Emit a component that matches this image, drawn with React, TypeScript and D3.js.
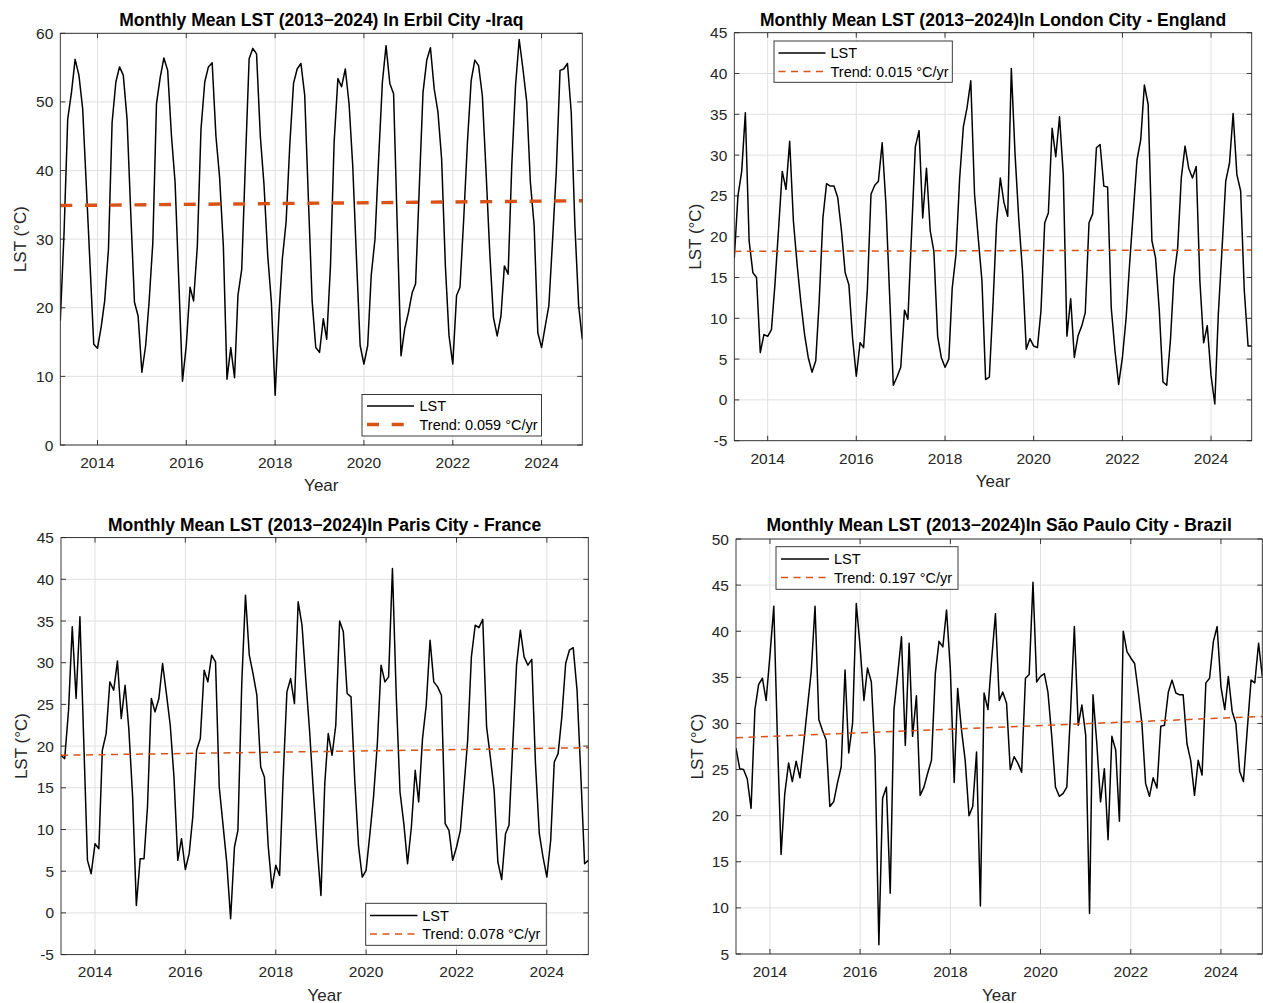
import React from "react";
import * as d3 from "d3";

// ---------------- DATA ----------------
const erbilLST = [
  18.1, 31, 47.5, 51.4, 56.2, 53.9, 49, 37.8, 26.1, 14.7,
  14.1, 17.3, 21, 28.5, 47, 52.9, 55.1, 53.9, 47.5, 34, 20.8, 18.8,
  10.6, 14.5, 20.8, 29.5, 49.7, 53.6, 56.4, 54.6, 45.1, 38.3, 23.7, 9.3,
  14.5, 23, 21, 29, 46, 52.9, 55.1, 55.7, 45, 39, 29, 9.6,
  14.2, 9.8, 21.8, 25.6, 41, 56.3, 57.8, 57, 45, 38, 27.6, 20.8,
  7.25, 19, 27.1, 32.5, 43.6, 52.7, 54.8, 55.6, 51, 36, 21, 14.2,
  13.5, 18.4, 15.4, 26.1, 44.1, 53.4, 52.2, 54.8, 49.7, 40.7, 27.1, 14.5,
  11.8, 14.5, 24.7, 30, 41.7, 52.9, 58.2, 52.7, 51.2, 32, 13, 16.9,
  19.3, 22.2, 23.5, 37.8, 51.4, 56.1, 57.9, 51.9, 48.5, 41.7, 26.1, 15.9,
  11.8, 21.8, 23, 33, 44, 53.1, 56.1, 55.3, 50.9, 40, 28, 18.6,
  15.9, 18.8, 26.1, 24.9, 40.7, 52.4, 59.1, 54.8, 50, 38.3, 32, 16.4,
  14.2, 17.4, 20.3, 30, 39.8, 54.6, 54.8, 55.6, 48.5, 32, 20.3, 15.4,
];

const londonLST = [
  17.4, 25, 28, 35.2, 19.5, 15.6, 15.0, 5.8, 8.0,
  7.8, 8.6, 14, 21, 28, 25.8, 31.7, 21.9, 16.5, 12, 8, 5.2,
  3.4, 4.8, 12, 22.3, 26.5, 26.2, 26.2, 24.8, 20.7, 15.6, 14.1, 7.6,
  2.9, 7.0, 6.4, 13.5, 25.2, 26.3, 26.8, 31.5, 24, 13, 1.8, 2.8,
  4.0, 11.0, 9.9, 20.7, 31, 33, 22.3, 28.4, 20.7, 18.2, 7.8, 5.2,
  4.0, 5.0, 13.7, 17.8, 27.1, 33.5, 35.8, 39.1, 25.2, 19.9, 14.6, 2.5,
  2.8, 12.1, 21.5, 27.2, 24.2, 22.5, 40.6, 30, 22, 15.8, 6.2, 7.5,
  6.6, 6.4, 10.9, 21.7, 22.9, 33.3, 29.8, 34.7, 27.6, 7.8, 12.4, 5.2,
  7.9, 9.1, 10.7, 21.7, 22.8, 30.9, 31.3, 26.2, 26.1, 11.3, 6.0, 1.9,
  5.2, 10.1, 16.6, 23.1, 29.4, 31.9, 38.6, 36.2, 19.5, 17.4, 10.9, 2.2,
  1.8, 7.4, 15, 18.6, 27.2, 31.1, 28.4, 27.2, 28.6, 14.6, 7.0, 9.1,
  3.0, -0.5, 10.5, 18.6, 26.8, 29.0, 35.1, 27.6, 25.6, 13.4, 6.6, 6.6,
];

const parisLST = [
  18.9, 18.5, 24.3, 34.3, 25.7, 35.5, 21, 6.3, 4.7,
  8.3, 7.7, 19.5, 21.5, 27.7, 26.7, 30.2, 23.3, 27.3, 22.1, 13.9, 0.9,
  6.5, 6.5, 12.7, 25.7, 24.1, 25.7, 29.9, 26.3, 22.5, 16.3, 6.3, 8.9,
  5.2, 7.1, 11.5, 19.5, 20.9, 29.1, 27.7, 30.9, 30.1, 15.1, 10.5, 6,
  -0.7, 7.9, 9.9, 27.5, 38.1, 30.9, 28.7, 26.1, 17.5, 16.3, 8, 3.0,
  5.7, 4.5, 16, 26.5, 28.1, 25.1, 37.3, 34.5, 27.9, 21.9, 14.5, 8,
  2.1, 15.5, 21.5, 18.9, 22.5, 35.0, 33.7, 26.3, 25.9, 16, 8, 4.3,
  5.1, 9.5, 13.9, 20.3, 29.7, 27.7, 28.3, 41.3, 25.9, 14.5, 10.7, 5.9,
  10.3, 17.1, 13.3, 20.9, 24.9, 32.7, 27.7, 27.1, 26.1, 10.7, 9.9, 6.3,
  7.9, 9.9, 14.9, 20.7, 30.7, 34.5, 34.2, 35.2, 22.3, 18.7, 14.7, 6.1,
  4.0, 9.5, 10.5, 20.3, 29.7, 33.9, 30.7, 29.7, 30.4, 17.9, 9.5, 6.7,
  4.3, 8.7, 18.1, 19.1, 23.5, 29.9, 31.5, 31.8, 26.7, 16.7, 5.9, 6.3,
];

const saoPauloLST = [
  27.3, 25.1, 25.0, 24.0, 20.8, 31.5, 34.2, 34.9, 32.5,
  37.4, 42.7, 29, 15.8, 22.4, 25.7, 23.7, 25.9, 24.1, 27.8, 31.8, 35.6,
  42.7, 30.4, 29.3, 28.2, 21.0, 21.5, 23.5, 25.3, 35.8, 26.8, 30.0, 43.0,
  38.3, 32.5, 36.0, 34.5, 26.4, 6.0, 21.9, 23.1, 11.6, 31.5, 35.4, 39.4,
  27.6, 38.7, 28.6, 33.0, 22.2, 23.1, 24.6, 26.0, 35.4, 38.9, 38.3, 42.3,
  35.8, 23.6, 33.8, 29.3, 26.0, 20.0, 21.0, 26.9, 10.2, 33.3, 31.5, 36.9,
  41.9, 32.5, 33.4, 32.2, 25.0, 26.4, 25.7, 24.7, 34.9, 35.3, 45.3, 34.5,
  35.1, 35.4, 33.4, 28.6, 23.1, 22.1, 22.4, 23.1, 31.5, 40.5, 29.8, 32.0,
  28.7, 9.4, 33.1, 27.8, 21.5, 25.1, 17.4, 28.6, 27.1, 19.4, 40.0, 37.8,
  37.1, 36.5, 33.6, 30.0, 23.5, 22.1, 24.1, 23.0, 29.7, 29.8, 33.4, 34.7,
  33.3, 33.1, 33.1, 27.8, 26.0, 22.2, 26.0, 24.4, 34.4, 34.9, 38.9, 40.5,
  34.0, 31.5, 35.1, 31.3, 30.0, 24.8, 23.7, 29.3, 34.7, 34.4, 38.7, 35.1,
];

const panelTitles = [
  "Monthly Mean LST (2013\u22122024) In Erbil City -Iraq",
  "Monthly Mean LST (2013\u22122024)In London City - England",
  "Monthly Mean LST (2013\u22122024)In Paris City - France",
  "Monthly Mean LST (2013\u22122024)In S\u00e3o Paulo City - Brazil",
];
const trendLabels = [
  "Trend: 0.059 \u00b0C/yr",
  "Trend: 0.015 \u00b0C/yr",
  "Trend: 0.078 \u00b0C/yr",
  "Trend: 0.197 \u00b0C/yr",
];
const trendSlopes = [0.059, 0.015, 0.078, 0.197];
const trendStartValues = [34.9, 18.2, 18.9, 28.45];
const startMonths = [[2013, 2], [2013, 3], [2013, 3], [2013, 3]];
const yDomains = [[0, 60], [-5, 45], [-5, 45], [5, 50]];
const yTickSteps = [10, 5, 5, 5];
const xTickYears = [2014, 2016, 2018, 2020, 2022, 2024];
const seriesList = [erbilLST, londonLST, parisLST, saoPauloLST];

// ---------------- LAYOUT / STYLE ----------------
const FONT = "'Liberation Sans', Arial, Helvetica, sans-serif";
const ORANGE = "#D95319";
const AXIS = "#262626";

const layouts = [
  { left: 60.3, top: 33.3, right: 582.3, bottom: 445, titleY: 19.6, tickY: 462.5, xLabelY: 485.5, yLabelX: 20,
    legend: { x: 362, y: 394.5, w: 179.5, h: 41.5, l1: 406, l2: 424.5, sx1: 367, sx2: 414, tx: 419.5 },
    trendW: 3.4, dash: "12,12.7" },
  { left: 734.3, top: 32.7, right: 1251.7, bottom: 440.7, titleY: 19.6, tickY: 458.5, xLabelY: 481, yLabelX: 695,
    legend: { x: 774, y: 41, w: 178.3, h: 41.3, l1: 53, l2: 71.5, sx1: 778.5, sx2: 825.5, tx: 830.5 },
    trendW: 1.5, dash: "7,5.5" },
  { left: 61, top: 537.6, right: 588.3, bottom: 954.6, titleY: 525, tickY: 971.5, xLabelY: 995, yLabelX: 21,
    legend: { x: 365.7, y: 903.3, w: 180.6, h: 42, l1: 915.5, l2: 934, sx1: 370, sx2: 417.5, tx: 422.3 },
    trendW: 1.5, dash: "7,5.5" },
  { left: 736, top: 539, right: 1262.3, bottom: 954, titleY: 525, tickY: 971.5, xLabelY: 995, yLabelX: 697,
    legend: { x: 776, y: 546.7, w: 182, h: 42.6, l1: 559, l2: 577.5, sx1: 781, sx2: 829, tx: 834 },
    trendW: 1.5, dash: "7,5.5" },
];

function Panel({ idx }: { idx: number }) {
  const L = layouts[idx];
  const values = seriesList[idx];
  const [sy, sm] = startMonths[idx];
  const start = new Date(Date.UTC(sy, sm, 1));
  const dates = values.map((_, i) => d3.utcMonth.offset(start, i));
  const last = dates[dates.length - 1];
  const x = d3.scaleUtc().domain([start, last]).range([L.left, L.right]);
  const y = d3.scaleLinear().domain(yDomains[idx]).range([L.bottom, L.top]);
  const [y0, y1] = yDomains[idx];
  const yTicks = d3.range(y0, y1 + 0.001, yTickSteps[idx]);
  const xTicks = xTickYears.map((yr) => new Date(Date.UTC(yr, 0, 1)));

  const linePath = d3
    .line<number>()
    .x((_, i) => x(dates[i]))
    .y((d) => y(d))(values) as string;

  const yearsSpan = (last.getTime() - start.getTime()) / (365.25 * 864e5);
  const tStart = trendStartValues[idx];
  const tEnd = tStart + trendSlopes[idx] * yearsSpan;
  const trendPath = d3.line()([
    [x(start), y(tStart)],
    [x(last), y(tEnd)],
  ]) as string;

  const cx = (L.left + L.right) / 2;
  const cy = (L.top + L.bottom) / 2;
  const tk = 5;
  const lg = L.legend;
  const clipId = `clip${idx}`;

  return (
    <g>
      <defs>
        <clipPath id={clipId}>
          <rect x={L.left} y={L.top} width={L.right - L.left} height={L.bottom - L.top} />
        </clipPath>
      </defs>
      <rect x={L.left} y={L.top} width={L.right - L.left} height={L.bottom - L.top} fill="#fff" />
      {xTicks.map((t, i) => (
        <line key={"gx" + i} x1={x(t)} x2={x(t)} y1={L.top} y2={L.bottom} stroke="#e0e0e0" strokeWidth={1} />
      ))}
      {yTicks.map((v, i) => (
        <line key={"gy" + i} x1={L.left} x2={L.right} y1={y(v)} y2={y(v)} stroke="#e0e0e0" strokeWidth={1} />
      ))}
      <g clipPath={`url(#${clipId})`}>
        <path d={linePath} fill="none" stroke="#000" strokeWidth={1.5} strokeLinejoin="round" />
        <path d={trendPath} fill="none" stroke={ORANGE} strokeWidth={L.trendW} strokeDasharray={L.dash} />
      </g>
      <rect x={L.left} y={L.top} width={L.right - L.left} height={L.bottom - L.top} fill="none" stroke={AXIS} strokeWidth={0.9} />
      {xTicks.map((t, i) => (
        <g key={"tx" + i}>
          <line x1={x(t)} x2={x(t)} y1={L.bottom} y2={L.bottom - tk} stroke={AXIS} strokeWidth={0.9} />
          <line x1={x(t)} x2={x(t)} y1={L.top} y2={L.top + tk} stroke={AXIS} strokeWidth={0.9} />
          <text x={x(t)} y={L.tickY} textAnchor="middle" dominantBaseline="central" fontSize={15.5} fill={AXIS} fontFamily={FONT}>
            {d3.utcFormat("%Y")(t)}
          </text>
        </g>
      ))}
      {yTicks.map((v, i) => (
        <g key={"ty" + i}>
          <line x1={L.left} x2={L.left + tk} y1={y(v)} y2={y(v)} stroke={AXIS} strokeWidth={0.9} />
          <line x1={L.right} x2={L.right - tk} y1={y(v)} y2={y(v)} stroke={AXIS} strokeWidth={0.9} />
          <text x={L.left - 7} y={y(v)} textAnchor="end" dominantBaseline="central" fontSize={15.5} fill={AXIS} fontFamily={FONT}>
            {v}
          </text>
        </g>
      ))}
      <text x={cx} y={L.titleY} textAnchor="middle" dominantBaseline="central" fontSize={17.5} fontWeight="bold" fill="#000" fontFamily={FONT}>
        {panelTitles[idx]}
      </text>
      <text x={cx} y={L.xLabelY} textAnchor="middle" dominantBaseline="central" fontSize={17} fill={AXIS} fontFamily={FONT}>
        Year
      </text>
      <text
        transform={`translate(${L.yLabelX},${cy}) rotate(-90)`}
        textAnchor="middle"
        dominantBaseline="central"
        fontSize={17}
        fill={AXIS}
        fontFamily={FONT}
      >
        LST (°C)
      </text>
      <rect x={lg.x} y={lg.y} width={lg.w} height={lg.h} fill="#fff" stroke={AXIS} strokeWidth={0.9} />
      <line x1={lg.sx1} x2={lg.sx2} y1={lg.l1} y2={lg.l1} stroke="#000" strokeWidth={1.5} />
      <line x1={lg.sx1} x2={lg.sx2} y1={lg.l2} y2={lg.l2} stroke={ORANGE} strokeWidth={L.trendW} strokeDasharray={L.dash} />
      <text x={lg.tx} y={lg.l1} dominantBaseline="central" fontSize={14.5} fill="#000" fontFamily={FONT}>
        LST
      </text>
      <text x={lg.tx} y={lg.l2} dominantBaseline="central" fontSize={14.5} fill="#000" fontFamily={FONT}>
        {trendLabels[idx]}
      </text>
    </g>
  );
}

export default function App() {
  return (
    <svg
      width={1263}
      height={1003}
      style={{ position: "absolute", left: 0, top: 0, background: "#fff" }}
      xmlns="http://www.w3.org/2000/svg"
    >
      <rect x={0} y={0} width={1263} height={1003} fill="#fff" />
      {[0, 1, 2, 3].map((i) => (
        <Panel key={i} idx={i} />
      ))}
    </svg>
  );
}
